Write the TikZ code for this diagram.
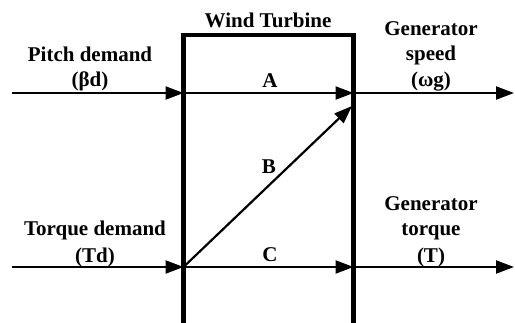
\documentclass[tikz,border=0pt]{standalone}
\usepackage{fontspec}
\setmainfont{Liberation Serif}
\usetikzlibrary{arrows.meta}
\begin{document}
\begin{tikzpicture}[x=1pt,y=-1pt,
  sig/.style={line width=2.2pt,-{Triangle[length=18pt,width=13pt]}},
  boxline/.style={line width=4.5pt,line join=miter},
  lbl/.style={font=\fontsize{21}{25}\selectfont\bfseries,anchor=base,inner sep=0pt}]
\useasboundingbox (0,0) rectangle (515,322);
% box
\coordinate (bl) at (183.5,330);
\coordinate (tl) at (183.5,35);
\coordinate (tr) at (353.5,35);
\coordinate (br) at (353.5,330);
\draw[boxline] (bl) -- (tl) -- (tr) -- (br);
% ports
\coordinate (inA) at (12,93);
\coordinate (wA) at (183.5,93);
\coordinate (eA) at (353.5,93);
\coordinate (outA) at (514,93);
\coordinate (inC) at (12,267);
\coordinate (wC) at (183.5,267);
\coordinate (eC) at (353.5,267);
\coordinate (outC) at (514,267);
\coordinate (eB) at (352,106);
\draw[sig] (inA) -- (wA);
\draw[sig] (wA) -- (eA);
\draw[sig] (eA) -- (outA);
\draw[sig] (inC) -- (wC);
\draw[sig] (wC) -- (eC);
\draw[sig] (eC) -- (outC);
\draw[sig] (wC) -- (eB);
% labels
\node[lbl] (title) at (268,27) {Wind Turbine};
\node[lbl] (pd1) at (90,61) {Pitch demand};
\node[lbl] (pd2) at (90,86) {(βd)};
\node[lbl] (gs1) at (431,35) {Generator};
\node[lbl] (gs2) at (431,60) {speed};
\node[lbl] (gs3) at (431,86) {(ωg)};
\node[lbl] (la) at (270,87) {A};
\node[lbl] (lb) at (269,173) {B};
\node[lbl] (lc) at (270,261) {C};
\node[lbl] (td1) at (95,235) {Torque demand};
\node[lbl] (td2) at (95,262) {(Td)};
\node[lbl] (gt1) at (431,210) {Generator};
\node[lbl] (gt2) at (431,235) {torque};
\node[lbl] (gt3) at (431,262) {(T)};
\end{tikzpicture}
\end{document}
